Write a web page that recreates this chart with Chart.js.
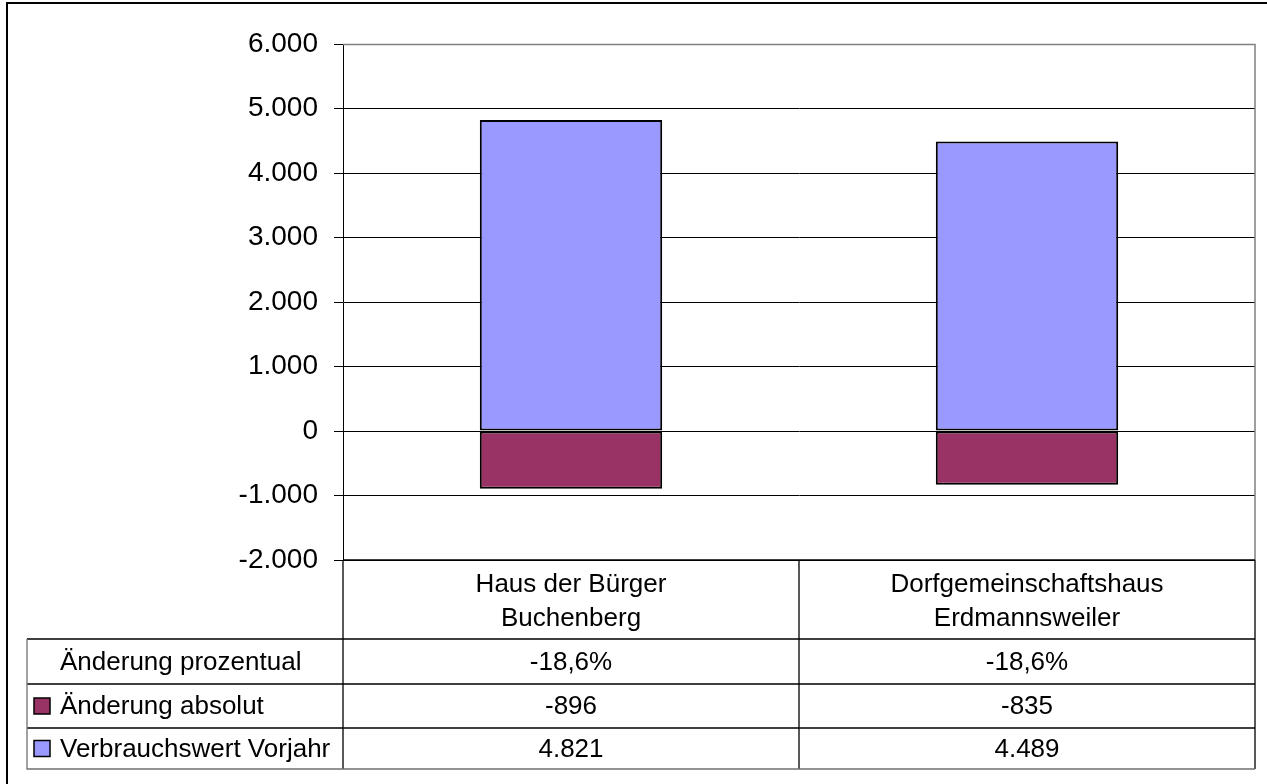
<!DOCTYPE html>
<html>
<head>
<meta charset="utf-8">
<script src="https://cdn.jsdelivr.net/npm/chart.js@4/dist/chart.umd.min.js"></script>
<style>
  html, body { margin: 0; padding: 0; background: #ffffff; }
  #wrap { width: 1267px; height: 784px; position: relative; }
</style>
</head>
<body>
<div id="wrap"><canvas id="c" width="1267" height="784"></canvas></div>
<script>
// ---- data ----
const categories = [["Haus der Bürger", "Buchenberg"], ["Dorfgemeinschaftshaus", "Erdmannsweiler"]];
const seriesNames = ["Änderung prozentual", "Änderung absolut", "Verbrauchswert Vorjahr"];
const aenderungProzentual = [-18.6, -18.6];
const aenderungAbsolut = [-896, -835];
const verbrauchVorjahr = [4821, 4489];
const yMin = -2000, yMax = 6000, yStep = 1000;
const colorAbsolut = "#993366";
const colorVorjahr = "#9999FF";

function fmtInt(v) {
  const neg = v < 0;
  let s = String(Math.abs(Math.round(v)));
  s = s.replace(/\B(?=(\d{3})+(?!\d))/g, ".");
  return (neg ? "-" : "") + s;
}
function fmtPct(v) {
  return v.toFixed(1).replace(".", ",") + "%";
}

const FONT = "'Liberation Sans', Arial, Helvetica, sans-serif";

const tablePlugin = {
  id: "tablePlugin",
  afterDraw(chart) {
    const ctx = chart.ctx;
    const ca = chart.chartArea;
    const xs = chart.scales.x;
    const n = categories.length;
    const colW = (ca.right - ca.left) / n;
    const tableLeft = 27;
    const headTop = ca.bottom;
    const headBot = headTop + 79;
    const rowBounds = [headBot, headBot + 45, headBot + 89, headBot + 130];
    ctx.save();

    // outer chart border (left & top)
    ctx.strokeStyle = "#000";
    ctx.lineWidth = 2;
    ctx.beginPath();
    ctx.moveTo(7, 784); ctx.lineTo(7, 3); ctx.lineTo(1267, 3);
    ctx.stroke();

    // plot area gray border top & right
    ctx.strokeStyle = "#808080";
    ctx.lineWidth = 1.5;
    ctx.beginPath();
    ctx.moveTo(ca.left, ca.top + 0.5); ctx.lineTo(ca.right, ca.top + 0.5);
    ctx.lineTo(ca.right, ca.bottom);
    ctx.stroke();

    // table lines
    ctx.strokeStyle = "#000";
    ctx.lineWidth = 1.3;
    ctx.beginPath();
    ctx.moveTo(ca.left, headTop); ctx.lineTo(ca.right, headTop);
    for (let i = 0; i < rowBounds.length - 1; i++) {
      ctx.moveTo(tableLeft, rowBounds[i]); ctx.lineTo(ca.right, rowBounds[i]);
    }
    for (let j = 0; j <= n; j++) {
      const xv = ca.left + j * colW;
      ctx.moveTo(xv, headTop); ctx.lineTo(xv, rowBounds[rowBounds.length - 1]);
    }
    ctx.stroke();
    ctx.strokeStyle = "#707070";
    ctx.beginPath();
    ctx.moveTo(tableLeft, rowBounds[0]); ctx.lineTo(tableLeft, rowBounds[3]);
    ctx.lineTo(ca.right, rowBounds[3]);
    ctx.stroke();

    // header text
    ctx.fillStyle = "#000";
    ctx.font = "26px " + FONT;
    ctx.textAlign = "center";
    ctx.textBaseline = "middle";
    const headMid = (headTop + headBot) / 2 + 2;
    for (let i = 0; i < n; i++) {
      const cx = xs.getPixelForValue(i);
      const lines = categories[i];
      lines.forEach((t, k) => {
        ctx.fillText(t, cx, headMid + (k - (lines.length - 1) / 2) * 34);
      });
    }

    // rows
    const rowVals = [
      aenderungProzentual.map(fmtPct),
      aenderungAbsolut.map(fmtInt),
      verbrauchVorjahr.map(fmtInt)
    ];
    const keyColors = [null, colorAbsolut, colorVorjahr];
    for (let r = 0; r < 3; r++) {
      const mid = (rowBounds[r] + rowBounds[r + 1]) / 2;
      if (keyColors[r]) {
        ctx.fillStyle = keyColors[r];
        ctx.fillRect(34, mid - 8, 16, 16);
        ctx.strokeStyle = "#000";
        ctx.lineWidth = 1.5;
        ctx.strokeRect(34, mid - 8, 16, 16);
      }
      ctx.fillStyle = "#000";
      ctx.textAlign = "left";
      ctx.fillText(seriesNames[r], 60, mid + 1);
      ctx.textAlign = "center";
      for (let i = 0; i < n; i++) {
        ctx.fillText(rowVals[r][i], xs.getPixelForValue(i), mid + 1);
      }
    }
    ctx.restore();
  }
};

new Chart(document.getElementById("c"), {
  type: "bar",
  data: {
    labels: categories.map(c => c.join(" ")),
    datasets: [
      {
        label: seriesNames[2],
        data: verbrauchVorjahr,
        backgroundColor: colorVorjahr,
        borderColor: "#000",
        borderWidth: 2,
        borderSkipped: false,
        categoryPercentage: 1.0,
        barPercentage: 0.4
      },
      {
        label: seriesNames[1],
        data: aenderungAbsolut,
        backgroundColor: colorAbsolut,
        borderColor: "#000",
        borderWidth: 2,
        borderSkipped: false,
        categoryPercentage: 1.0,
        barPercentage: 0.4
      }
    ]
  },
  options: {
    responsive: false,
    animation: false,
    devicePixelRatio: 1,
    layout: { padding: { left: 0, right: 12, top: 44, bottom: 224 } },
    plugins: { legend: { display: false }, tooltip: { enabled: false } },
    scales: {
      x: {
        display: false,
        stacked: true
      },
      y: {
        stacked: true,
        min: yMin,
        max: yMax,
        ticks: {
          stepSize: yStep,
          color: "#000",
          font: { family: FONT, size: 28 },
          padding: 16,
          callback: v => fmtInt(v)
        },
        grid: {
          color: "#000",
          lineWidth: 1,
          tickLength: 9,
          tickColor: "#000"
        },
        border: { color: "#000", width: 1 },
        afterFit(scale) { scale.width = 343; }
      }
    }
  },
  plugins: [tablePlugin]
});
</script>
</body>
</html>
